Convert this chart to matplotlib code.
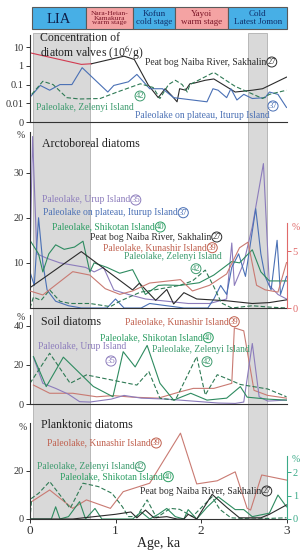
import matplotlib
matplotlib.use("Agg")
import matplotlib.pyplot as plt
from matplotlib.patches import Rectangle

plt.rcParams['font.family'] = ['Liberation Serif', 'DejaVu Serif']
plt.rcParams['mathtext.fontset'] = 'stix'

# ---------------- data ----------------
stage_names = ["LIA", "Nara-Heian-\nKamakura\nwarm stage", "Kofun\ncold stage", "Yayoi\nwarm stage", "Cold\nLatest Jomon"]
stage_start = [0.02, 0.66, 1.20, 1.70, 2.32]
stage_end = [0.66, 1.20, 1.70, 2.32, 3.01]
stage_warm = [False, True, False, True, False]
cold_bands = [(0.035, 0.70), (2.555, 2.767)]

# concentration of diatom valves (10^6/g)
naiba_red_age = [0.0, 0.6, 0.72]
naiba_red_conc = [5.0, 1.2, 1.3]
naiba_conc_age = [0.72, 1.1, 1.22, 1.38, 1.5, 1.58, 1.66, 1.72, 1.75, 1.82, 1.87, 1.92, 2.05, 2.15, 2.4, 2.6, 2.72, 3.0]
naiba_conc = [1.3, 3.3, 2.2, 0.1, 0.02, 0.06, 0.025, 0.012, 0.06, 0.05, 0.11, 0.12, 0.17, 0.2, 0.04, 0.05, 0.06, 0.25]
iturup_conc_age = [0.0, 0.12, 0.23, 0.35, 0.49, 0.61, 0.91, 0.98, 1.15, 1.25, 1.4, 1.55, 1.68, 2.07, 2.14, 2.2, 2.3, 2.35, 2.42, 2.5, 2.6, 2.75, 2.8, 2.9, 3.0]
iturup_conc = [0.021, 0.09, 0.05, 0.1, 0.1, 0.8, 0.04, 0.09, 0.14, 0.35, 0.06, 0.06, 0.02, 0.012, 0.06, 0.05, 0.02, 0.06, 0.015, 0.03, 0.018, 0.02, 0.04, 0.03, 0.006]
zelenyi_conc_age = [0.02, 0.15, 0.27, 0.43, 0.58, 0.82, 1.02, 1.29, 1.44, 1.52, 1.62, 1.70, 1.78, 1.84, 1.87, 2.15, 2.4, 2.55, 2.72, 2.8, 3.0]
zelenyi_conc = [0.03, 0.15, 0.1, 0.02, 0.017, 0.018, 0.04, 0.11, 0.07, 0.018, 0.1, 0.17, 0.1, 0.04, 0.1, 0.45, 0.08, 0.04, 0.018, 0.03, 0.05]

# arctoboreal diatoms, %
urup_arcto_age = [0.0, 0.03, 0.08, 0.2, 0.35, 0.5, 0.65, 0.75, 0.86, 0.98, 1.15, 1.35, 1.6, 1.85, 2.1, 2.3, 2.36, 2.39, 2.5, 2.6, 2.73, 2.8, 2.9, 3.0]
urup_arcto = [10, 38, 12, 11, 10, 9.5, 9, 8, 9, 4, 3, 2, 1.5, 1, 1, 2, 14.4, 5, 10, 18, 32, 5, 3, 2]
iturup_arcto_age = [0.0, 0.05, 0.1, 0.15, 0.2, 0.3, 0.45, 0.6, 0.9, 1.0, 1.1, 1.3, 1.4, 1.8, 2.08, 2.15, 2.23, 2.3, 2.36, 2.44, 2.52, 2.64, 2.7, 2.75, 2.82, 2.89, 2.93, 3.0]
iturup_arcto = [8, 5, 20, 10, 4, 1.5, 0.5, 0, 0, 2, 0, 0, 1, 0, 0, 2, 5, 3, 9, 12, 7, 22, 12, 7, 4, 15, 3, 7]
shikotan_arcto_age = [0.0, 0.1, 0.15, 0.22, 0.3, 0.4, 0.52, 0.62, 0.7, 0.75, 0.9, 1.05, 1.2, 1.35, 1.5, 1.58, 1.75, 1.98, 2.15, 2.36, 2.45, 2.6, 2.7, 2.8, 3.0]
shikotan_arcto = [15, 12, 8, 12, 14, 13, 13.5, 14.8, 8, 10, 9, 7.7, 8.5, 3, 5, 5.1, 5, 5.6, 7.3, 10.3, 10, 12.9, 8, 6, 6]
naiba_arcto_age = [0.0, 0.6, 1.2, 1.28, 1.47, 1.6, 1.68, 1.8, 1.95, 2.3, 2.6, 2.8, 3.0]
naiba_arcto = [4.5, 12.5, 4, 5.5, 1.7, 4.1, 0.9, 3.4, 2, 1.6, 1, 1.2, 1.8]
zelenyi_arcto_age = [0.0, 0.04, 0.13, 0.23, 0.35, 0.47, 0.7, 0.94, 1.05, 1.29, 1.45, 1.6, 1.75, 1.9, 2.05, 2.15, 2.24, 2.36, 2.6, 2.8, 3.0]
zelenyi_arcto = [0, 2.4, 1.7, 4, 1.5, 1, 1, 0.3, 1.5, 3.5, 4, 4.5, 5, 6, 8.4, 4.7, 1.1, 0, 0.5, 0.2, 0]
kunashir_arcto_age = [0.0, 0.15, 0.5, 0.7, 0.88, 1.05, 1.2, 1.4, 1.76, 1.9, 2.1, 2.3, 2.45, 2.55, 2.65, 2.75, 2.9, 3.0]
kunashir_arcto = [1.5, 1.15, 3.2, 2.9, 1.7, 1.2, 1.5, 2.2, 2.5, 1.5, 2.0, 3.0, 5.3, 5.8, 2.0, 1.6, 1.4, 4.0]

# soil diatoms, %
shikotan_soil_age = [0.04, 0.19, 0.39, 0.74, 0.97, 1.09, 1.23, 1.37, 1.52, 1.68, 1.88, 2.07, 2.3, 2.46, 2.54, 2.78, 3.0]
shikotan_soil = [24.3, 8.9, 24, 9, 3.7, 26.8, 19, 30, 10.6, 2, 5.5, 2, 3, 8.9, 3.5, 2.5, 2]
zelenyi_soil_age = [0.0, 0.23, 0.47, 0.66, 1.25, 1.39, 1.52, 1.7, 1.95, 2.05, 2.19, 2.34, 2.46, 2.78, 3.0]
zelenyi_soil = [10.6, 26, 10.6, 14.9, 9.7, 16.6, 2.9, 2, 24.3, 4.6, 15, 12.3, 10, 7.7, 3.7]
urup_soil_age = [0.04, 0.15, 0.3, 0.45, 0.58, 0.7, 0.95, 1.1, 1.3, 1.6, 1.9, 2.2, 2.4, 2.5, 2.6, 2.68, 2.78, 3.0]
urup_soil = [24, 10.6, 8, 5, 1.2, 1, 2.5, 4.4, 3, 2.5, 1.5, 0.5, 0.3, 1, 31, 3.7, 1.5, 2]
kunashir_soil_age = [0.04, 0.23, 0.5, 0.78, 0.97, 1.2, 1.5, 1.76, 1.91, 2.15, 2.36, 2.39, 2.5, 2.62, 2.78, 3.0]
kunashir_soil = [9.7, 5.5, 5.5, 3.7, 4.3, 3.5, 3, 6.3, 8, 8, 10.6, 39, 37.5, 7, 4.4, 3]

# planktonic diatoms, % (Kunashir, Zelenyi: left axis; Shikotan, Naiba: right axis)
kunashir_plank_age = [0.02, 0.23, 0.5, 0.66, 0.94, 1.09, 1.4, 1.76, 1.95, 2.19, 2.4, 2.54, 2.58, 2.71, 3.0]
kunashir_plank = [7.2, 12, 4.4, 7.9, 4.4, 11.3, 14.8, 35.5, 14.5, 15.8, 19.5, 4.4, 3.7, 18.2, 16.1]
zelenyi_plank_age = [0.0, 0.02, 0.1, 0.23, 0.47, 0.62, 0.8, 0.96, 1.08, 1.15, 1.25, 1.37, 1.48, 1.64, 1.75, 1.9, 2.13, 2.22, 2.35, 2.6, 3.0]
zelenyi_plank = [0, 8.6, 10.6, 15.5, 4.4, 14.8, 13.4, 10.6, 5.1, 1, 1, 7.9, 0.5, 4.4, 4, 1, 9.2, 4, 0.5, 0, 0.5]
shikotan_plank_age = [0.0, 0.25, 0.3, 0.35, 0.45, 0.58, 0.65, 0.76, 0.84, 1.2, 1.3, 1.4, 1.5, 1.6, 1.7, 1.8, 1.85, 1.95, 2.07, 2.2, 2.4, 2.5, 2.6, 2.8, 2.9, 3.0]
shikotan_plank = [0, 0, 0.52, 0, 0.1, 0.74, 0, 0.45, 0, 0, 0.3, 0, 0.2, 0.45, 0.1, 0, 0.4, 0, 0.5, 0.95, 0.4, 0.4, 0.1, 0.25, 1.02, 0.52]
naiba_plank_age = [0.0, 0.5, 1.0, 1.18, 1.25, 1.35, 1.45, 1.6, 1.72, 1.8, 1.85, 1.95, 2.13, 2.3, 2.45, 2.7, 2.8, 3.0]
naiba_plank = [0, 0, 0.2, 0.3, 0.05, 0.38, 0.05, 0.1, 0, 0, 0.2, 0, 1.05, 0.5, 0.05, 0.05, 0.2, 0.6]

# ---------------- style ----------------
W, H = 305, 550
C_BLACK = '#2b2b2b'
C_REDSEG = '#d23a50'
C_BLUE = '#4a70b5'
C_ZEL = '#2f7a55'
C_ZEL_T = '#3d9b6e'
C_SHI = '#2e8b60'
C_SHI_T = '#2a9d62'
C_URUP = '#8c7cbc'
C_KUN = '#c97a72'
C_KUN_T = '#c0604e'
C_R2 = '#e06a6a'
C_R4 = '#3aaa88'
LW = 0.8
DASH = (0, (4, 2))
LABEL_SIZE = 6.9

fig = plt.figure(figsize=(W / 100, H / 100), dpi=100)


def rect(px0, py0, px1, py1):
    return [px0 / W, 1 - py1 / H, (px1 - px0) / W, (py1 - py0) / H]


X0, X1 = 30, 286.5

# background gray bands
bg = fig.add_axes(rect(X0, 33, X1, 519))
bg.set_xlim(0, 3)
bg.set_ylim(0, 1)
bg.axis('off')
for a, b in cold_bands:
    bg.axvspan(a, b, color='#d9d9d9', ec='#b0b0b0', lw=0.6)

# header
hd = fig.add_axes(rect(X0, 7, X1, 29))
hd.set_xlim(0, 3)
hd.set_ylim(0, 1)
hd.axis('off')
for name, s, e, warm in zip(stage_names, stage_start, stage_end, stage_warm):
    fc = '#f4a3a3' if warm else '#47afe6'
    tc = '#7a1426' if warm else '#0f2f6a'
    hd.add_patch(Rectangle((s, 0), e - s, 1, fc=fc, ec='#5a5a5a', lw=0.8, clip_on=False))
    if name == 'LIA':
        hd.text((s + e) / 2, 0.45, name, ha='center', va='center', fontsize=10.5, color='#10204a')
    elif warm and name.startswith('Nara'):
        hd.text((s + e) / 2, 0.5, name, ha='center', va='center', fontsize=5.4, color=tc, linespacing=0.85)
    else:
        hd.text((s + e) / 2, 0.5, name, ha='center', va='center', fontsize=6.5, color=tc, linespacing=0.9)


def style(ax):
    ax.set_facecolor('none')
    ax.set_xlim(0, 3)
    ax.spines['top'].set_visible(False)
    ax.spines['right'].set_visible(False)
    for sp in ax.spines.values():
        sp.set_linewidth(0.8)
        sp.set_color('#333333')
    ax.tick_params(axis='y', direction='out', length=3, width=0.7, labelsize=7.5, pad=1.5, colors='#333333')
    ax.tick_params(axis='x', bottom=False, labelbottom=False)


def style_right(axr, ymax, bound, ticks, color):
    axr.set_facecolor('none')
    axr.set_xlim(0, 3)
    axr.set_ylim(0, ymax)
    for k in ['top', 'left', 'bottom']:
        axr.spines[k].set_visible(False)
    axr.spines['right'].set_bounds(0, bound)
    axr.spines['right'].set_color(color)
    axr.spines['right'].set_linewidth(0.8)
    axr.set_yticks(ticks)
    axr.tick_params(axis='y', direction='out', length=3, width=0.7, labelsize=7.5, pad=1.5, colors=color)


# panel 1: concentration
ax1 = fig.add_axes(rect(X0, 35, X1, 122))
style(ax1)
ax1.set_yscale('log')
ax1.set_ylim(1e-3, 10 ** 1.65)
ax1.plot(naiba_red_age, naiba_red_conc, color=C_REDSEG, lw=LW)
ax1.plot(naiba_conc_age, naiba_conc, color=C_BLACK, lw=LW)
ax1.plot(iturup_conc_age, iturup_conc, color=C_BLUE, lw=LW)
ax1.plot(zelenyi_conc_age, zelenyi_conc, color=C_ZEL, lw=LW, ls=DASH)
ax1.set_yticks([1e-3, 1e-2, 1e-1, 1, 10])
ax1.set_yticklabels(['0', '0.01', '0.1', '1', '10'])
ax1.yaxis.set_minor_locator(matplotlib.ticker.NullLocator())

# panel 2: arctoboreal
ax2 = fig.add_axes(rect(X0, 132, X1, 308))
style(ax2)
ax2.set_ylim(0, 39)
ax2.set_yticks([10, 20, 30])
ax2.plot(urup_arcto_age, urup_arcto, color=C_URUP, lw=LW)
ax2.plot(iturup_arcto_age, iturup_arcto, color=C_BLUE, lw=LW)
ax2.plot(shikotan_arcto_age, shikotan_arcto, color=C_SHI, lw=LW)
ax2.plot(naiba_arcto_age, naiba_arcto, color=C_BLACK, lw=LW)
ax2.plot(zelenyi_arcto_age, zelenyi_arcto, color=C_ZEL, lw=LW, ls=DASH)
ax2r = ax2.twinx()
style_right(ax2r, 15.5, 7.5, [0, 5], C_R2)
ax2r.plot(kunashir_arcto_age, kunashir_arcto, color=C_KUN, lw=LW)

# panel 3: soil
ax3 = fig.add_axes(rect(X0, 315, X1, 404))
style(ax3)
ax3.set_ylim(0, 45.6)
ax3.set_yticks([0, 20, 40])
ax3.plot(kunashir_soil_age, kunashir_soil, color=C_KUN, lw=LW)
ax3.plot(urup_soil_age, urup_soil, color=C_URUP, lw=LW)
ax3.plot(shikotan_soil_age, shikotan_soil, color=C_SHI, lw=LW)
ax3.plot(zelenyi_soil_age, zelenyi_soil, color=C_ZEL, lw=LW, ls=DASH)

# panel 4: planktonic
ax4 = fig.add_axes(rect(X0, 423, X1, 519))
style(ax4)
ax4.set_ylim(0, 39.7)
ax4.set_yticks([0, 20])
ax4.plot(kunashir_plank_age, kunashir_plank, color=C_KUN, lw=LW)
ax4.plot(zelenyi_plank_age, zelenyi_plank, color=C_ZEL, lw=LW, ls=DASH)
ax4.tick_params(axis='x', bottom=True, labelbottom=True, direction='out', length=3, width=0.7,
                labelsize=9.5, pad=1, colors='#333333')
ax4.set_xticks([0, 1, 2, 3])
ax4.set_xlabel('Age, ka', fontsize=10, labelpad=0, color='#222222')
ax4r = ax4.twinx()
style_right(ax4r, 4.09, 2.7, [0, 1, 2], C_R4)
ax4r.plot(shikotan_plank_age, shikotan_plank, color=C_SHI, lw=LW)
ax4r.plot(naiba_plank_age, naiba_plank, color=C_BLACK, lw=LW)

# ---------------- texts ----------------
def ftext(px, py, s, color='#222222', size=LABEL_SIZE, ha='left', **kw):
    return fig.text(px / W, 1 - py / H, s, color=color, fontsize=size, ha=ha, va='center', **kw)


def circ(px, py, num, color):
    fig.text(px / W, 1 - py / H, num, color=color, fontsize=6.2, ha='center', va='center',
             bbox=dict(boxstyle='circle,pad=0.08', fc='none', ec=color, lw=0.7))


fig.canvas.draw()
renderer = fig.canvas.get_renderer()


def label(px, py, s, color, num=None, tcolor=None):
    t = ftext(px, py, s, color=tcolor or color)
    if num is not None:
        bb = t.get_window_extent(renderer=renderer)
        circ(bb.x1 + 5.5, py, num, color)


# titles
fig.text(40 / W, 1 - 32 / H, 'Concentration of\ndiatom valves (10$^6$/g)', fontsize=8.5,
         ha='left', va='top', linespacing=0.95, color='#222222')
ftext(42, 143.5, 'Arctoboreal diatoms', size=8.6)
ftext(41, 321.7, 'Soil diatoms', size=8.6)
ftext(41, 425, 'Planktonic diatoms', size=8.6)

# percent signs
ftext(17, 136, '%', size=7, color='#333333')
ftext(17, 317, '%', size=7, color='#333333')
ftext(19, 427, '%', size=7, color='#333333')
ftext(292, 228, '%', size=7, color=C_R2)
ftext(292, 460, '%', size=7, color=C_R4)

# panel 1 labels
label(145, 62, 'Peat bog Naiba River, Sakhalin', C_BLACK, '27')
label(36, 107, 'Paleolake, Zelenyi Island', C_ZEL_T)
circ(140, 96, '42', C_ZEL_T)
label(135, 115, 'Paleolake on plateau, Iturup Island', C_BLUE)
circ(273, 106, '37', C_BLUE)

# panel 2 labels
label(42, 200, 'Paleolake, Urup Island', C_URUP, '35')
label(43, 212.7, 'Paleolake on plateau, Iturup Island', C_BLUE, '37')
label(52, 227, 'Paleolake, Shikotan Island', C_SHI_T, '40')
label(90, 237, 'Peat bog Naiba River, Sakhalin', C_BLACK, '27')
label(103, 247.7, 'Paleolake, Kunashir Island', C_KUN_T, '39')
label(124, 256.7, 'Paleolake, Zelenyi Island', C_ZEL_T)
circ(196, 268.7, '42', C_ZEL_T)

# panel 3 labels
label(125, 321.7, 'Paleolake, Kunashir Island', C_KUN_T, '39')
label(100, 337.7, 'Paleolake, Shikotan Island', C_SHI_T, '40')
label(38, 346.7, 'Paleolake, Urup Island', C_URUP)
circ(111, 361, '35', C_URUP)
label(152, 350, 'Paleolake, Zelenyi Island', C_ZEL_T)
circ(207, 361.7, '42', C_ZEL_T)

# panel 4 labels
label(47, 443, 'Paleolake, Kunashir Island', C_KUN_T, '39')
label(37, 466.7, 'Paleolake, Zelenyi Island', C_ZEL_T, '42')
label(60, 476.7, 'Paleolake, Shikotan Island', C_SHI_T, '40')
label(140, 491, 'Peat bog Naiba River, Sakhalin', C_BLACK, '27')

fig.savefig('out.png', dpi=100)
